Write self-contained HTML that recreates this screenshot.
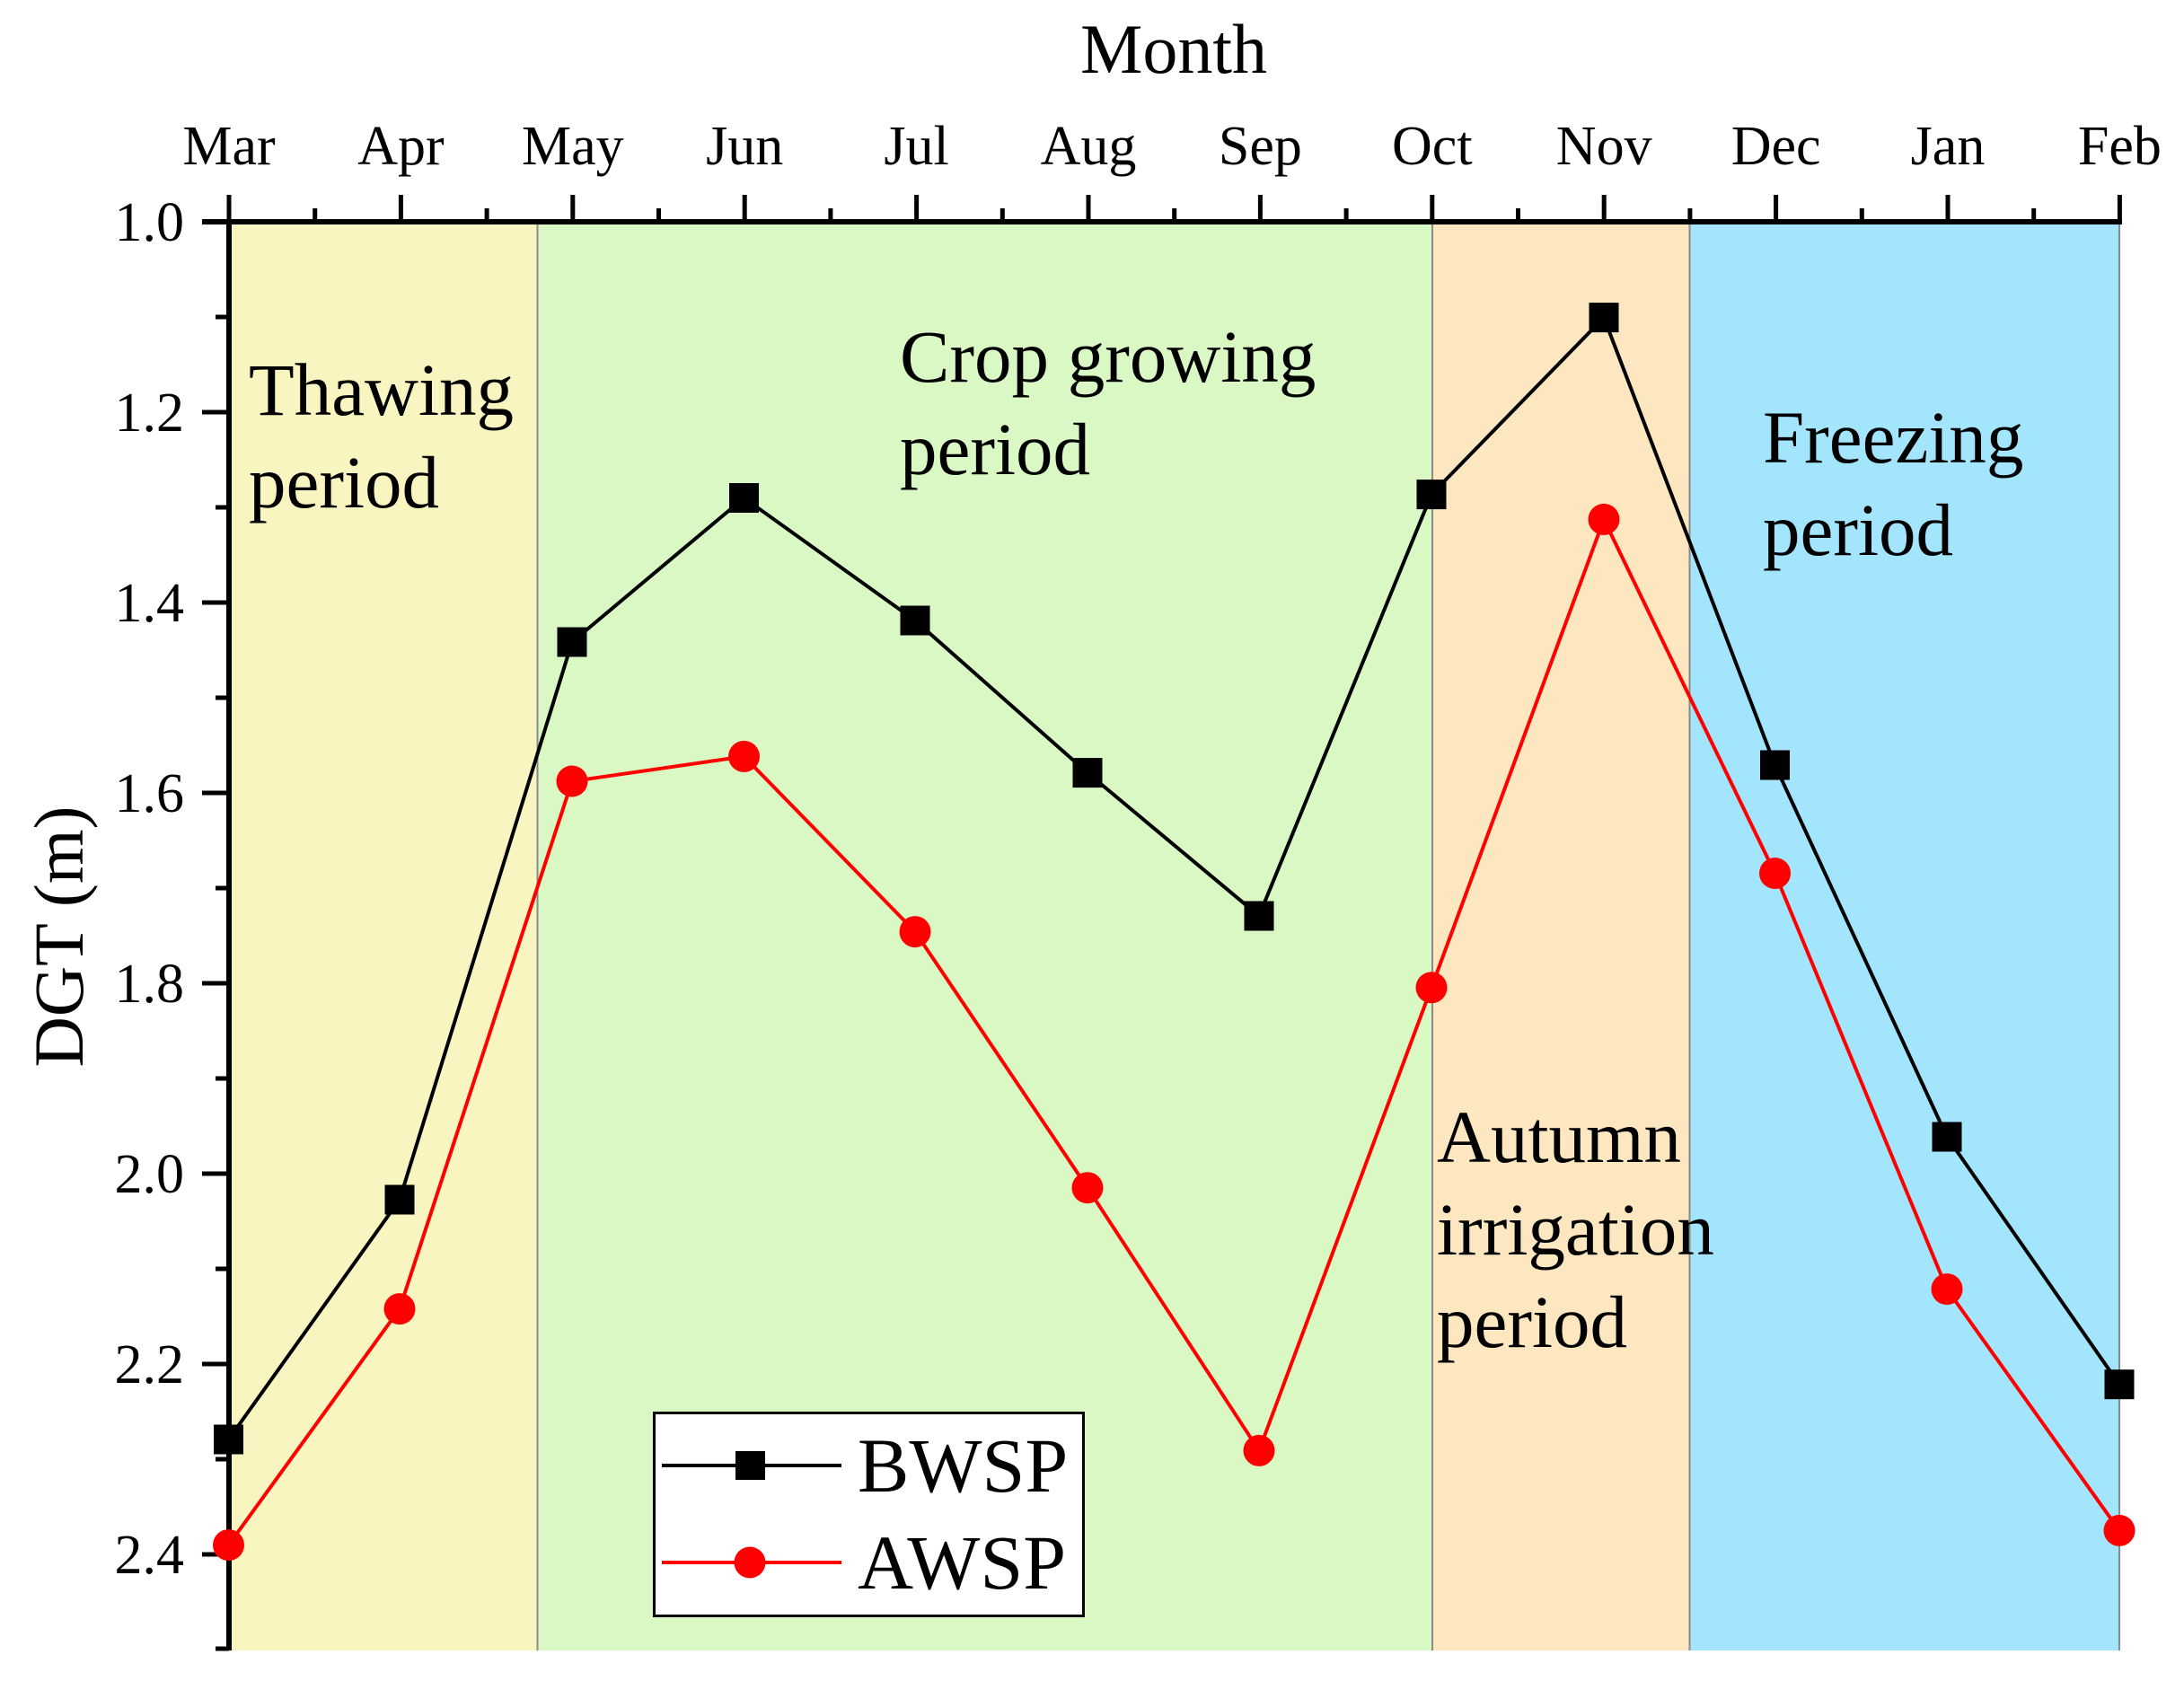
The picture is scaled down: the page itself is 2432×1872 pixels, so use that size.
<!DOCTYPE html>
<html>
<head>
<meta charset="utf-8">
<style>
html,body{margin:0;padding:0;background:#fff;}
svg{display:block;}
text{font-family:"Liberation Serif","Times New Roman",serif;fill:#000;}
</style>
</head>
<body>
<svg width="2432" height="1872" viewBox="0 0 2432 1872" xmlns="http://www.w3.org/2000/svg">
<rect x="0" y="0" width="2432" height="1872" fill="#fff"/>
<!-- period backgrounds -->
<rect x="255" y="247" width="343.5" height="1591" fill="#F9F5C0"/>
<rect x="598.5" y="247" width="996.5" height="1591" fill="#D9F8C3"/>
<rect x="1595" y="247" width="286.5" height="1591" fill="#FDE7C1"/>
<rect x="1881.5" y="247" width="478.5" height="1591" fill="#A2E5FD"/>
<g stroke="#8a8a8a" stroke-width="2">
<line x1="598.5" y1="247" x2="598.5" y2="1838"/>
<line x1="1595" y1="247" x2="1595" y2="1838"/>
<line x1="1881.5" y1="247" x2="1881.5" y2="1838"/>
<line x1="2360" y1="247" x2="2360" y2="1838"/>
</g>

<!-- annotations -->
<g font-size="83">
<text x="277" y="462">Thawing</text>
<text x="277" y="565">period</text>
<text x="1002" y="425">Crop growing</text>
<text x="1002" y="528">period</text>
<text x="1600" y="1294">Autumn</text>
<text x="1600" y="1397">irrigation</text>
<text x="1600" y="1500">period</text>
<text x="1963" y="515">Freezing</text>
<text x="1963" y="618">period</text>
</g>

<!-- axes -->
<g stroke="#000" stroke-linecap="butt">
<line x1="255" y1="244" x2="255" y2="1838" stroke-width="6"/>
<line x1="225" y1="247" x2="2363" y2="247" stroke-width="6"/>
<!-- y ticks -->
<g stroke-width="5">
<line x1="225" y1="247" x2="255" y2="247"/>
<line x1="240" y1="353" x2="255" y2="353"/>
<line x1="225" y1="459" x2="255" y2="459"/>
<line x1="240" y1="565" x2="255" y2="565"/>
<line x1="225" y1="671" x2="255" y2="671"/>
<line x1="240" y1="777" x2="255" y2="777"/>
<line x1="225" y1="883" x2="255" y2="883"/>
<line x1="240" y1="989" x2="255" y2="989"/>
<line x1="225" y1="1095" x2="255" y2="1095"/>
<line x1="240" y1="1201" x2="255" y2="1201"/>
<line x1="225" y1="1307" x2="255" y2="1307"/>
<line x1="240" y1="1413" x2="255" y2="1413"/>
<line x1="225" y1="1519" x2="255" y2="1519"/>
<line x1="240" y1="1625" x2="255" y2="1625"/>
<line x1="225" y1="1731" x2="255" y2="1731"/>
<line x1="240" y1="1836" x2="255" y2="1836"/>
</g>
<!-- x ticks -->
<g stroke-width="5">
<line x1="255" y1="217" x2="255" y2="247"/>
<line x1="350.7" y1="232" x2="350.7" y2="247"/>
<line x1="446.4" y1="217" x2="446.4" y2="247"/>
<line x1="542.1" y1="232" x2="542.1" y2="247"/>
<line x1="637.8" y1="217" x2="637.8" y2="247"/>
<line x1="733.5" y1="232" x2="733.5" y2="247"/>
<line x1="829.2" y1="217" x2="829.2" y2="247"/>
<line x1="924.9" y1="232" x2="924.9" y2="247"/>
<line x1="1020.6" y1="217" x2="1020.6" y2="247"/>
<line x1="1116.3" y1="232" x2="1116.3" y2="247"/>
<line x1="1212" y1="217" x2="1212" y2="247"/>
<line x1="1307.7" y1="232" x2="1307.7" y2="247"/>
<line x1="1403.4" y1="217" x2="1403.4" y2="247"/>
<line x1="1499.1" y1="232" x2="1499.1" y2="247"/>
<line x1="1594.8" y1="217" x2="1594.8" y2="247"/>
<line x1="1690.5" y1="232" x2="1690.5" y2="247"/>
<line x1="1786.2" y1="217" x2="1786.2" y2="247"/>
<line x1="1881.9" y1="232" x2="1881.9" y2="247"/>
<line x1="1977.6" y1="217" x2="1977.6" y2="247"/>
<line x1="2073.3" y1="232" x2="2073.3" y2="247"/>
<line x1="2169" y1="217" x2="2169" y2="247"/>
<line x1="2264.7" y1="232" x2="2264.7" y2="247"/>
<line x1="2360.4" y1="217" x2="2360.4" y2="247"/>
</g>
</g>

<!-- tick labels -->
<g font-size="62" text-anchor="middle">
<text x="255" y="183">Mar</text>
<text x="446.4" y="183">Apr</text>
<text x="637.8" y="183">May</text>
<text x="829.2" y="183">Jun</text>
<text x="1020.6" y="183">Jul</text>
<text x="1212" y="183">Aug</text>
<text x="1403.4" y="183">Sep</text>
<text x="1594.8" y="183">Oct</text>
<text x="1786.2" y="183">Nov</text>
<text x="1977.6" y="183">Dec</text>
<text x="2169" y="183">Jan</text>
<text x="2360.4" y="183">Feb</text>
</g>
<g font-size="62" text-anchor="end">
<text x="205" y="268">1.0</text>
<text x="205" y="480">1.2</text>
<text x="205" y="692">1.4</text>
<text x="205" y="904">1.6</text>
<text x="205" y="1116">1.8</text>
<text x="205" y="1328">2.0</text>
<text x="205" y="1540">2.2</text>
<text x="205" y="1752">2.4</text>
</g>
<text x="1307" y="81" font-size="78" text-anchor="middle">Month</text>
<text transform="translate(92,1043) rotate(-90)" font-size="78" text-anchor="middle">DGT (m)</text>

<!-- series -->
<polyline fill="none" stroke="#000" stroke-width="4" stroke-linejoin="miter"
 points="254.5,1603 445,1336 637,715 828.5,554.5 1019,691 1211,860.6 1402,1020 1594,550.6 1786,353.6 1976.5,852 2168,1266 2360,1541.7"/>
<polyline fill="none" stroke="#FF0000" stroke-width="4" stroke-linejoin="miter"
 points="254.5,1720.6 445,1457.6 637,870 828.5,842.4 1019,1037.6 1211,1322.7 1402,1615.4 1594,1099.8 1786,578.4 1976.5,972.5 2168,1435.6 2360,1704.4"/>
<g fill="#000">
<rect x="238" y="1586.5" width="33" height="33"/>
<rect x="428.5" y="1319.5" width="33" height="33"/>
<rect x="620.5" y="698.5" width="33" height="33"/>
<rect x="812" y="538" width="33" height="33"/>
<rect x="1002.5" y="674.5" width="33" height="33"/>
<rect x="1194.5" y="844.1" width="33" height="33"/>
<rect x="1385.5" y="1003.5" width="33" height="33"/>
<rect x="1577.5" y="534.1" width="33" height="33"/>
<rect x="1769.5" y="337.1" width="33" height="33"/>
<rect x="1960" y="835.5" width="33" height="33"/>
<rect x="2151.5" y="1249.5" width="33" height="33"/>
<rect x="2343.5" y="1525.2" width="33" height="33"/>
</g>
<g fill="#FF0000">
<circle cx="254.5" cy="1720.6" r="17.5"/>
<circle cx="445" cy="1457.6" r="17.5"/>
<circle cx="637" cy="870" r="17.5"/>
<circle cx="828.5" cy="842.4" r="17.5"/>
<circle cx="1019" cy="1037.6" r="17.5"/>
<circle cx="1211" cy="1322.7" r="17.5"/>
<circle cx="1402" cy="1615.4" r="17.5"/>
<circle cx="1594" cy="1099.8" r="17.5"/>
<circle cx="1786" cy="578.4" r="17.5"/>
<circle cx="1976.5" cy="972.5" r="17.5"/>
<circle cx="2168" cy="1435.6" r="17.5"/>
<circle cx="2360" cy="1704.4" r="17.5"/>
</g>

<!-- legend -->
<rect x="728.5" y="1573.5" width="478" height="226" fill="#fff" stroke="#000" stroke-width="3"/>
<line x1="737" y1="1632" x2="937" y2="1632" stroke="#000" stroke-width="4"/>
<rect x="819" y="1616" width="33" height="32" fill="#000"/>
<line x1="737" y1="1740" x2="937" y2="1740" stroke="#FF0000" stroke-width="4"/>
<circle cx="835" cy="1740" r="17.5" fill="#FF0000"/>
<text x="955" y="1661" font-size="86">BWSP</text>
<text x="955" y="1769" font-size="86">AWSP</text>
</svg>
</body>
</html>
